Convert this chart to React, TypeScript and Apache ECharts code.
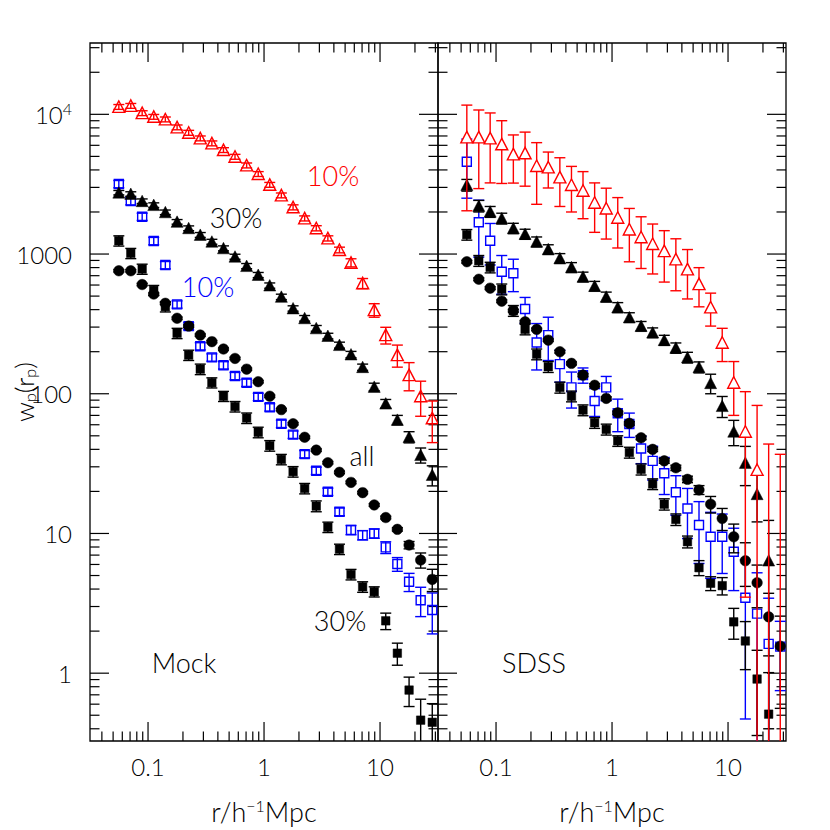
import React, { useEffect, useRef } from 'react';
import * as echarts from 'echarts';

const FONT = 'Lato';
const FW = 300;

// projected separation bins (h^-1 Mpc)
const rp = [0.056, 0.071, 0.089, 0.112, 0.141, 0.178, 0.224, 0.282, 0.355, 0.447, 0.562, 0.708, 0.891, 1.12, 1.41, 1.78, 2.24, 2.82, 3.55, 4.47, 5.62, 7.08, 8.91, 11.2, 14.1, 17.8, 22.4, 28.2];

// ---- Mock panel ----
const mockAll = [759, 759, 605, 517, 444, 347, 305, 263, 236, 209, 179, 150, 122, 96, 77, 61, 48.8, 39.5, 32.1, 27.4, 23.2, 19.6, 16.0, 13.0, 10.7, 8.26, 6.45, 4.69];
const mockAllErr = [15, 15, 12, 10, 9, 7, 6, 5, 4.5, 4, 3.5, 3, 2.4, 1.9, 1.5, 1.2, 1.0, 0.8, 0.65, 0.55, 0.5, 0.4, 0.35, 0.3, 0.3, 0.5, 0.8, 0.85];
const mockRed10 = [11300, 11500, 10200, 9600, 9200, 8070, 7380, 6730, 6200, 5550, 4970, 4310, 3740, 3130, 2630, 2160, 1800, 1530, 1295, 1070, 867, 617, 397, 263, 189, 136, 96, 66.7];
const mockRed10Err = [450, 460, 410, 380, 370, 320, 300, 270, 250, 220, 200, 175, 150, 125, 105, 90, 75, 65, 55, 50, 58, 51, 44, 36, 34, 31, 27, 22];
const mockRed30 = [2750, 2690, 2390, 2240, 1990, 1700, 1530, 1370, 1225, 1099, 957, 820, 708, 595, 494, 408, 347, 294, 259, 223, 191, 155, 112, 85, 65, 49, 36.4, 26.2];
const mockRed30Err = [100, 100, 90, 85, 75, 65, 60, 55, 50, 45, 40, 35, 30, 26, 22, 18, 16, 14, 12, 11, 10, 8, 7, 6, 5, 4.5, 4.5, 4.3];
const mockBlue10 = [3170, 2390, 1850, 1240, 834, 436, 305, 219, 182, 160, 134, 120, 95, 80, 61, 51, 37, 28.1, 19.9, 14.3, 10.6, 9.73, 10.0, 7.95, 6.04, 4.51, 3.33, 2.83];
const mockBlue10Err = [190, 140, 110, 75, 50, 26, 18, 13, 11, 9.6, 8, 7.2, 5.7, 4.8, 3.7, 3.1, 2.2, 1.7, 1.2, 0.9, 0.8, 0.75, 0.77, 0.77, 0.68, 0.67, 0.79, 0.92];
const mockBlue30 = [1245, 1012, 781, 550, 420, 271, 189, 150, 120, 96, 81, 67, 53, 42.5, 33.9, 27.7, 21.0, 15.7, 11.1, 7.72, 5.09, 4.15, 3.83, 2.37, 1.39, 0.757, 0.461, 0.445];
const mockBlue30Err = [105, 85, 65, 46, 35, 23, 16, 13, 10, 8, 7, 5.8, 4.6, 3.7, 2.9, 2.4, 1.8, 1.4, 0.95, 0.66, 0.44, 0.36, 0.32, 0.32, 0.25, 0.18, 0.19, 0.16];

// ---- SDSS panel ----
const sdssAll = [881, 660, 570, 460, 393, 327, 289, 242, 200, 165, 136, 115, 92.6, 73.1, 61.4, 48.4, 40, 33.1, 29.5, 24.4, 20.5, 16.2, 12.8, 9.47, 6.38, 4.44, 2.53, 1.56];
const sdssAllErr = [20, 15, 13, 10, 9, 7, 6, 5, 4.5, 4, 3.5, 3, 2.5, 2, 1.8, 1.5, 1.4, 1.3, 1.3, 1.3, 1.5, 2.2, 2.3, 2.2, 2.2, 1.5, 1.2, 1.0];
const sdssRed10 = [6840, 6840, 6730, 6100, 5170, 5260, 4270, 4170, 3540, 3120, 2840, 2330, 2120, 1820, 1500, 1318, 1180, 1050, 916, 777, 609, 415, 232, 120, 53.5, 28.5, 0.15, 0.15];
const sdssRed10Err = [4800, 3900, 3500, 2900, 1950, 2200, 2000, 1200, 1350, 1120, 1050, 900, 840, 715, 620, 530, 460, 420, 370, 300, 190, 110, 62, 50, 50, 54, 43.5, 36.7];
const sdssRed30 = [3120, 2210, 2010, 1800, 1530, 1390, 1225, 1080, 932, 803, 687, 590, 494, 415, 352, 305, 274, 242, 213, 182, 155, 119, 81.6, 53.5, 32, 19.1, 6.4, null];
const sdssRed30Err = [300, 210, 180, 160, 130, 115, 100, 85, 75, 65, 55, 47, 40, 34, 28, 24, 22, 20, 18, 16, 14, 19, 14, 11, 10, 7, 6, null];
const sdssBlue10 = [4580, 1690, 1245, 746, 728, 404, 233, 263, 163, 111, 136, 88.8, 111, 72.5, 60.7, 40.6, 33.1, 27, 19.7, 15.1, 11.5, 9.47, 9.47, 7.40, 3.47, 2.67, 1.62, 1.55];
const sdssBlue10Err = [2070, 740, 410, 230, 190, 85, 85, 90, 42, 32, 17, 20, 22, 19, 12, 9, 9, 8, 6.2, 5.9, 5.4, 4.7, 4.3, 3.5, 3.0, 2.56, 1.82, 0.8];
const sdssBlue30 = [1377, 896, 803, 560, 393, 289, 192, 156, 111, 96, 76.4, 62, 55.6, 46, 38, 28.8, 22.6, 16.2, 12.6, 8.73, 5.69, 4.40, 4.23, 2.33, 1.70, 0.908, 0.509, null];
const sdssBlue30Err = [120, 80, 70, 50, 35, 25, 17, 14, 10, 8.5, 6.8, 5.5, 5, 4, 3.4, 2.6, 2, 1.5, 1.2, 0.85, 0.7, 0.5, 0.6, 0.58, 0.64, 0.55, 0.5, null];

// axis ranges and labels
const xMin = 0.0316;
const xMax = 31.6;
const yMin = 0.327;
const yMax = 32400;
const xTickLabels: Record<string, string> = { '-1': '0.1', '0': '1', '1': '10' };
const yTickLabels: Record<string, string> = { '0': '1', '1': '10', '2': '100', '3': '1000', '4': '10{sup|4}' };
const xName = 'r/h{sup|−1}Mpc';
const yName = 'w{sub|p}(r{sub|p})';
const annotations = [
  { text: '10%', color: '#ff0000', x: 333, y: 175 },
  { text: '30%', color: '#000000', x: 236, y: 217 },
  { text: '10%', color: '#0000ff', x: 208, y: 286 },
  { text: 'all', color: '#000000', x: 362, y: 455 },
  { text: '30%', color: '#000000', x: 340, y: 620 },
  { text: 'Mock', color: '#000000', x: 184, y: 662 },
  { text: 'SDSS', color: '#000000', x: 534, y: 662 },
];

function minorTicks(lo: number, hi: number) {
  const out: number[][] = [];
  for (let d = -3; d <= 5; d++) {
    for (let m = 1; m <= 9; m++) {
      const v = m * Math.pow(10, d);
      if (v >= lo * 1.001 && v <= hi * 0.999) out.push([v, m === 1 ? 1 : 0]);
    }
  }
  return out;
}

type MStyle = { shape: 'circle' | 'square' | 'triangle'; color: string; filled: boolean; whiteFill?: boolean; size: number };

function pointSeries(grid: number, ys: (number | null)[], errs: (number | null)[], st: MStyle, z: number) {
  const data: number[][] = [];
  rp.forEach((x, i) => {
    const y = ys[i];
    if (y == null) return;
    data.push([x, y, errs[i] ?? 0]);
  });
  return {
    type: 'custom',
    xAxisIndex: grid,
    yAxisIndex: grid,
    clip: true,
    silent: true,
    z,
    data,
    renderItem: (params: any, api: any) => {
      const x = api.value(0);
      const y = api.value(1);
      const e = api.value(2);
      const cs = params.coordSys;
      const c = api.coord([x, y]);
      const top = api.coord([x, y + e])[1];
      const lo = y - e;
      const bot = lo > 0 ? api.coord([x, lo])[1] : cs.y + cs.height + 40;
      const cap = 5.5;
      const ls = { stroke: st.color, lineWidth: 1.4 };
      const children: any[] = [
        { type: 'line', shape: { x1: c[0], y1: top, x2: c[0], y2: bot }, style: ls },
        { type: 'line', shape: { x1: c[0] - cap, y1: top, x2: c[0] + cap, y2: top }, style: ls },
      ];
      if (lo > 0) children.push({ type: 'line', shape: { x1: c[0] - cap, y1: bot, x2: c[0] + cap, y2: bot }, style: ls });
      const ms = st.filled
        ? { fill: st.color, stroke: st.color, lineWidth: 0.5 }
        : { fill: st.whiteFill ? '#ffffff' : 'none', stroke: st.color, lineWidth: 1.4 };
      const s = st.size;
      if (st.shape === 'circle') {
        children.push({ type: 'circle', shape: { cx: c[0], cy: c[1], r: s / 2 }, style: ms });
      } else if (st.shape === 'square') {
        children.push({ type: 'rect', shape: { x: c[0] - s / 2, y: c[1] - s / 2, width: s, height: s }, style: ms });
      } else {
        const h = s * 0.5;
        children.push({
          type: 'polygon',
          shape: { points: [[c[0], c[1] - h - 0.5], [c[0] - s / 2 - 0.5, c[1] + h], [c[0] + s / 2 + 0.5, c[1] + h]] },
          style: ms,
        });
      }
      return { type: 'group', children };
    },
  };
}

function tickSeries(grid: number, dir: 'x' | 'y') {
  const data = dir === 'x'
    ? minorTicks(xMin, xMax).map(([v, m]) => [v, 1, m])
    : minorTicks(yMin, yMax).map(([v, m]) => [1, v, m]);
  return {
    type: 'custom',
    xAxisIndex: grid,
    yAxisIndex: grid,
    silent: true,
    z: 1,
    data,
    renderItem: (params: any, api: any) => {
      const cs = params.coordSys;
      const p = api.coord([api.value(0), api.value(1)]);
      const len = api.value(2) ? 19 : 9.5;
      const ls = { stroke: '#000', lineWidth: 1.2 };
      if (dir === 'x') {
        const b = cs.y + cs.height;
        return {
          type: 'group',
          children: [
            { type: 'line', shape: { x1: p[0], y1: b, x2: p[0], y2: b - len }, style: ls },
            { type: 'line', shape: { x1: p[0], y1: cs.y, x2: p[0], y2: cs.y + len }, style: ls },
          ],
        };
      }
      const r = cs.x + cs.width;
      return {
        type: 'group',
        children: [
          { type: 'line', shape: { x1: cs.x, y1: p[1], x2: cs.x + len, y2: p[1] }, style: ls },
          { type: 'line', shape: { x1: r, y1: p[1], x2: r - len, y2: p[1] }, style: ls },
        ],
      };
    },
  };
}

function decadeKey(v: number) {
  const l = Math.log10(v);
  const r = Math.round(l);
  return Math.abs(l - r) < 1e-6 ? String(r) : null;
}

export default function App() {
  const ref = useRef<HTMLDivElement>(null);
  useEffect(() => {
    if (!ref.current) return;
    const chart = echarts.init(ref.current, undefined, { renderer: 'svg' });
    const textBase = { fontFamily: FONT, fontWeight: FW, color: '#000' };
    const mkX = (grid: number) => ({
      type: 'log',
      logBase: 10,
      gridIndex: grid,
      min: xMin,
      max: xMax,
      axisLine: { show: false },
      axisTick: { show: false },
      splitLine: { show: false },
      axisLabel: {
        ...textBase,
        fontSize: 24,
        margin: 13,
        showMinLabel: false,
        showMaxLabel: false,
        formatter: (v: number) => {
          const k = decadeKey(v);
          return k && xTickLabels[k] ? xTickLabels[k] : '';
        },
      },
      name: xName,
      nameLocation: 'middle',
      nameGap: 56,
      nameTextStyle: {
        ...textBase,
        fontSize: 27,
        rich: { sup: { ...textBase, fontSize: 16, padding: [0, 0, 13, 0] } },
      },
    });
    const mkY = (grid: number) => ({
      type: 'log',
      logBase: 10,
      gridIndex: grid,
      min: yMin,
      max: yMax,
      axisLine: { show: false },
      axisTick: { show: false },
      splitLine: { show: false },
      axisLabel: grid === 0
        ? {
          ...textBase,
          fontSize: 24,
          margin: 18,
          showMinLabel: false,
          showMaxLabel: false,
          formatter: (v: number) => {
            const k = decadeKey(v);
            return k && yTickLabels[k] ? yTickLabels[k] : '';
          },
          rich: { sup: { ...textBase, fontSize: 16, padding: [0, 0, 12, 0] } },
        }
        : { show: false },
    });

    const red = '#ff0000';
    const blue = '#0000ff';
    const black = '#000000';
    const series: any[] = [
      tickSeries(0, 'x'), tickSeries(0, 'y'), tickSeries(1, 'x'), tickSeries(1, 'y'),
      pointSeries(0, mockBlue10, mockBlue10Err, { shape: 'square', color: blue, filled: false, size: 9 }, 5),
      pointSeries(0, mockAll, mockAllErr, { shape: 'circle', color: black, filled: true, size: 10.5 }, 6),
      pointSeries(0, mockBlue30, mockBlue30Err, { shape: 'square', color: black, filled: true, size: 8.5 }, 7),
      pointSeries(0, mockRed30, mockRed30Err, { shape: 'triangle', color: black, filled: true, size: 11 }, 8),
      pointSeries(0, mockRed10, mockRed10Err, { shape: 'triangle', color: red, filled: false, size: 11 }, 9),
      pointSeries(1, sdssBlue10, sdssBlue10Err, { shape: 'square', color: blue, filled: false, whiteFill: true, size: 9 }, 5),
      pointSeries(1, sdssAll, sdssAllErr, { shape: 'circle', color: black, filled: true, size: 10.5 }, 6),
      pointSeries(1, sdssBlue30, sdssBlue30Err, { shape: 'square', color: black, filled: true, size: 8.5 }, 7),
      pointSeries(1, sdssRed30, sdssRed30Err, { shape: 'triangle', color: black, filled: true, size: 11 }, 8),
      pointSeries(1, sdssRed10, sdssRed10Err, { shape: 'triangle', color: red, filled: false, whiteFill: true, size: 11 }, 9),
    ];

    const graphics: any[] = annotations.map((a) => ({
      type: 'text',
      x: a.x,
      y: a.y,
      z: 100,
      style: {
        text: a.text,
        fill: a.color,
        fontSize: 27,
        fontFamily: FONT,
        fontWeight: FW,
        align: 'center',
        verticalAlign: 'middle',
        textAlign: 'center',
        textVerticalAlign: 'middle',
      },
    }));
    graphics.push({
      type: 'text',
      x: 24,
      y: 392,
      rotation: Math.PI / 2,
      z: 100,
      style: {
        text: yName,
        fill: '#000',
        fontSize: 26,
        fontFamily: FONT,
        fontWeight: FW,
        align: 'center',
        verticalAlign: 'middle',
        textAlign: 'center',
        textVerticalAlign: 'middle',
        rich: { sub: { fontFamily: FONT, fontWeight: FW, fill: '#000', fontSize: 16, padding: [11, 0, 0, 0] } },
      },
    });

    chart.setOption({
      animation: false,
      backgroundColor: '#ffffff',
      grid: [
        { left: 90, top: 43, width: 348, height: 698, show: true, borderColor: '#000', borderWidth: 1.3, backgroundColor: 'transparent' },
        { left: 438, top: 43, width: 348, height: 698, show: true, borderColor: '#000', borderWidth: 1.3, backgroundColor: 'transparent' },
      ],
      xAxis: [mkX(0), mkX(1)],
      yAxis: [mkY(0), mkY(1)],
      series,
      graphic: graphics,
    });
    return () => chart.dispose();
  }, []);
  return <div ref={ref} style={{ position: 'fixed', left: 0, top: 0, width: 830, height: 830, background: '#fff' }} />;
}
